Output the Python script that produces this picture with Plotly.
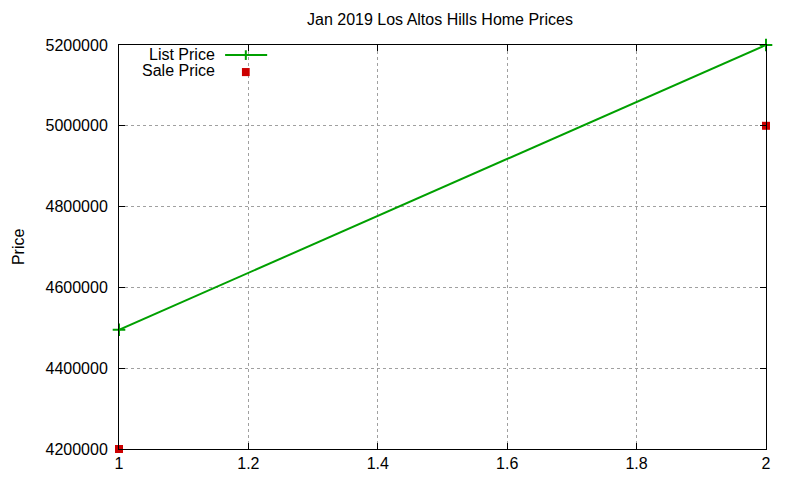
import plotly.graph_objects as go

# Data
months = [1, 2]
list_price = [4495000, 5200000]
sale_price = [4200000, 5000000]

green = "#00a000"
red = "#cc0000"
FONT = dict(family="Liberation Sans", size=16, color="black")

fig = go.Figure()
fig.add_trace(go.Scatter(
    x=months, y=list_price, mode="lines+markers", name="List Price",
    line=dict(color=green, width=2),
    marker=dict(symbol="cross-thin", size=9, line=dict(color=green, width=2)),
    cliponaxis=False,
))
fig.add_trace(go.Scatter(
    x=months, y=sale_price, mode="markers", name="Sale Price",
    marker=dict(symbol="square", size=8, color=red),
    cliponaxis=False,
))

axis_common = dict(
    showline=True, linecolor="black", linewidth=1, mirror="allticks",
    ticks="inside", ticklen=6, tickcolor="black",
    showgrid=True, gridcolor="#a0a0a0", griddash="dot", gridwidth=1,
    zeroline=False, tickfont=FONT,
)

fig.update_xaxes(range=[1, 2], tickmode="linear", tick0=1, dtick=0.2, **axis_common)
fig.update_yaxes(range=[4200000, 5200000], tickmode="linear", tick0=4200000, dtick=200000,
                 tickformat="d", ticklabelstandoff=7, **axis_common)

# gnuplot-style legend: text right-aligned with sample to the right
fig.add_annotation(x=0.1515, y=0.977, xref="paper", yref="paper", text="List Price",
                   showarrow=False, xanchor="right", yanchor="middle", font=FONT)
fig.add_annotation(x=0.1515, y=0.936, xref="paper", yref="paper", text="Sale Price",
                   showarrow=False, xanchor="right", yanchor="middle", font=FONT)
fig.add_shape(type="line", xref="paper", yref="paper", x0=0.164, x1=0.229, y0=0.975, y1=0.975,
              line=dict(color=green, width=2))
fig.add_shape(type="line", xref="paper", yref="paper", x0=0.196, x1=0.196, y0=0.963, y1=0.987,
              line=dict(color=green, width=2))
fig.add_shape(type="rect", xref="paper", yref="paper", x0=0.190, x1=0.202, y0=0.923, y1=0.943,
              fillcolor=red, line=dict(width=0))

fig.add_annotation(x=0.496, y=1.062, xref="paper", yref="paper",
                   text="Jan 2019 Los Altos Hills Home Prices",
                   showarrow=False, xanchor="center", yanchor="middle", font=FONT)
fig.add_annotation(x=-0.156, y=0.5, xref="paper", yref="paper", text="Price", textangle=-90,
                   showarrow=False, xanchor="center", yanchor="middle", font=FONT)

fig.update_layout(
    width=800, height=480,
    margin=dict(l=111, r=42, t=37, b=39),
    paper_bgcolor="white", plot_bgcolor="white",
    showlegend=False,
    font=FONT,
)

fig.write_html("out.html")
